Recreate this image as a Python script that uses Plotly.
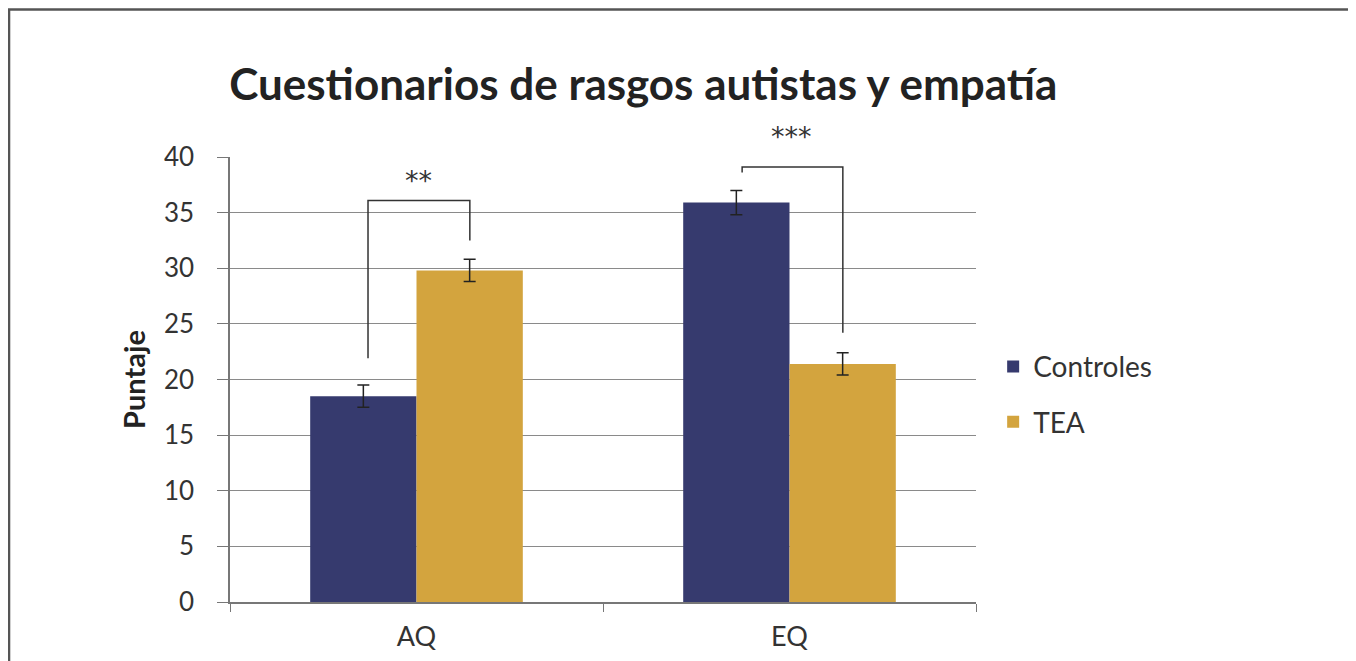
import plotly.graph_objects as go

# data
categories = ["AQ", "EQ"]
controles = [18.5, 35.9]
controles_err = [1.0, 1.1]
tea = [29.8, 21.4]
tea_err = [1.0, 1.0]

# significance brackets: [left x offset, right x offset], left foot, right foot, top
bracket_x = [[-0.13, 0.143], [-0.127, 0.143]]
bracket_left_y = [21.9, 38.6]
bracket_right_y = [32.5, 24.2]
bracket_top = [36.1, 39.1]
stars = ["**", "***"]
stars_y = [37.9, 41.8]

y_max = 40
navy = "#363a6e"
gold = "#d3a43e"
font = "Lato"

fig = go.Figure()

fig.add_trace(go.Bar(
    x=categories, y=controles, name="Controles", marker=dict(color=navy, line=dict(width=0)),
    error_y=dict(type="data", array=controles_err, color="#222", thickness=1.5, width=6),
    legendgroup="a"))
fig.add_trace(go.Bar(
    x=categories, y=tea, name="TEA", marker=dict(color=gold, line=dict(width=0)),
    error_y=dict(type="data", array=tea_err, color="#222", thickness=1.5, width=6),
    legendgroup="b"))

# brackets drawn in category index space
for i in range(len(categories)):
    xl = i + bracket_x[i][0]
    xr = i + bracket_x[i][1]
    fig.add_shape(type="path", xref="x", yref="y",
                  path=f"M {xl} {bracket_left_y[i]} L {xl} {bracket_top[i]} "
                       f"L {xr} {bracket_top[i]} L {xr} {bracket_right_y[i]}",
                  line=dict(color="#333", width=1.5))
    # stars can sit above the axis range, so place them in paper units
    fig.add_annotation(x=i + 0.005, y=stars_y[i] / y_max, xref="x", yref="paper",
                       text=stars[i], showarrow=False, yanchor="middle",
                       font=dict(family="DejaVu Sans", size=27, color="#333"))

# outer frame of the picture
fig.add_shape(type="rect", xref="paper", yref="paper",
              x0=-0.2962, x1=1.5067, y0=-0.2, y1=1.3315,
              line=dict(color="#555", width=2.5), layer="below")

fig.update_layout(
    width=1348, height=653,
    margin=dict(l=222, r=380, t=149, b=59),
    paper_bgcolor="white", plot_bgcolor="white",
    barmode="group", bargap=0.43, bargroupgap=0,
    title=dict(text="<b>Cuestionarios de rasgos autistas y empatía</b>",
               x=0.554, xref="paper", xanchor="center", y=0.882, yanchor="middle",
               font=dict(family=font, size=44, color="#222")),
    font=dict(family=font, color="#333"),
    legend=dict(x=1.023, y=0.467, xanchor="left", yanchor="middle",
                font=dict(family=font, size=28, color="#333"),
                tracegroupgap=16, itemwidth=30, bgcolor="rgba(0,0,0,0)"),
)

fig.update_xaxes(type="category", tickson="boundaries", ticks="outside", ticklen=8,
                 tickcolor="#777", showline=True, linecolor="#777", linewidth=1.5,
                 showgrid=False, ticklabelstandoff=10, automargin=False,
                 tickfont=dict(family=font, size=27, color="#333"),
                 range=[-0.5, 1.5])
fig.update_yaxes(range=[0, y_max], dtick=5, ticks="outside", ticklen=11, tickcolor="#777",
                 showline=True, linecolor="#777", linewidth=1.5,
                 showgrid=True, gridcolor="#8a8a8a", gridwidth=1, zeroline=False,
                 ticklabelstandoff=18,
                 tickfont=dict(family=font, size=26, color="#333"),
                 title=dict(text="<b>Puntaje</b>", standoff=10,
                            font=dict(family=font, size=29, color="#222")))

fig.write_html("out.html")
